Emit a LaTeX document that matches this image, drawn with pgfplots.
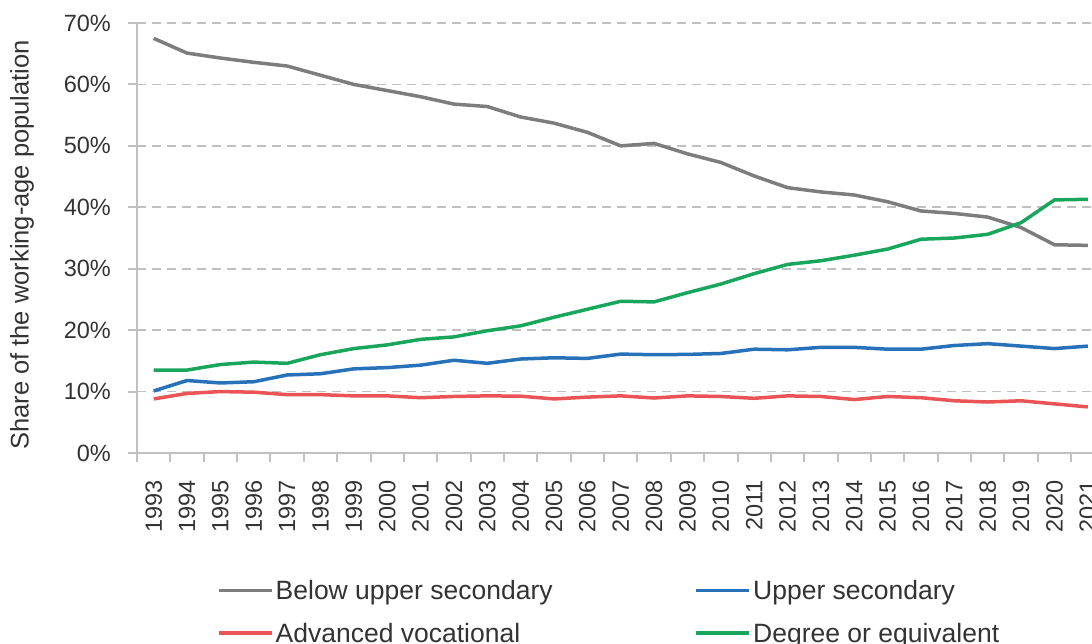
\documentclass[border=0pt]{standalone}
\usepackage{fontspec}
\setmainfont{Liberation Sans}
\usepackage{pgfplots}
\usepackage{pgfplotstable}
\pgfplotsset{compat=1.18}

\definecolor{belowgray}{RGB}{125,125,125}
\definecolor{upperblue}{RGB}{38,113,184}
\definecolor{vocred}{RGB}{234,84,86}
\definecolor{degreegreen}{RGB}{24,166,92}
\definecolor{axgray}{RGB}{192,192,192}
\definecolor{txt}{RGB}{51,51,51}

% idx 0 = 1993
\pgfplotstableread{
idx below upper voc degree
0  67.5 10.1 8.8  13.5
1  65.1 11.8 9.7  13.5
2  64.3 11.4 10.0 14.4
3  63.6 11.6 9.9  14.8
4  63.0 12.7 9.5  14.6
5  61.5 12.9 9.5  16.0
6  60.0 13.7 9.3  17.0
7  59.0 13.9 9.3  17.6
8  58.0 14.3 9.0  18.5
9  56.8 15.1 9.2  18.9
10 56.4 14.6 9.3  19.9
11 54.7 15.3 9.25 20.7
12 53.7 15.5 8.8  22.1
13 52.2 15.4 9.1  23.4
14 50.0 16.1 9.3  24.7
15 50.4 16.0 8.95 24.6
16 48.7 16.05 9.3 26.1
17 47.3 16.2 9.2  27.5
18 45.1 16.9 8.9  29.2
19 43.2 16.8 9.3  30.7
20 42.5 17.2 9.2  31.3
21 42.0 17.2 8.7  32.2
22 40.9 16.9 9.2  33.2
23 39.4 16.9 9.0  34.8
24 39.0 17.5 8.5  35.0
25 38.4 17.8 8.3  35.6
26 36.7 17.4 8.5  37.5
27 33.9 17.0 8.0  41.2
28 33.8 17.4 7.5  41.3
}\edudata

\begin{document}
\begin{tikzpicture}
\begin{axis}[
    scale only axis,
    width=967.5pt, height=430pt,
    xmin=-0.5, xmax=28.5, ymin=0, ymax=70,
    axis x line=bottom, axis y line=left,
    axis line style={-, draw=axgray, line width=2pt},
    xtick={0,...,28},
    xticklabels={1993,1994,1995,1996,1997,1998,1999,2000,2001,2002,2003,2004,2005,2006,2007,2008,2009,2010,2011,2012,2013,2014,2015,2016,2017,2018,2019,2020,2021},
    major x tick style={draw=none},
    minor xtick={-0.5,0.5,...,28.5},
    minor x tick style={draw=axgray, line width=2pt},
    minor tick length=9pt,
    ytick={0,10,...,70},
    yticklabel={\pgfmathprintnumber{\tick}\%},
    major y tick style={draw=axgray, line width=2pt},
    major tick length=9pt,
    tick align=outside,
    /pgf/number format/assume math mode=true,
    tick label style={font=\fontsize{23.5}{28}\selectfont, text=txt},
    xticklabel style={rotate=90, anchor=east, inner sep=0pt},
    xticklabel shift=18pt,
    yticklabel style={inner sep=0pt},
    yticklabel shift=17pt,
    ymajorgrids,
    grid style={draw=axgray, line width=1.8pt, dash pattern=on 9pt off 6pt},
    ylabel={Share of the working-age population},
    ylabel style={font=\fontsize{25.5}{30}\selectfont, text=txt, at={(axis description cs:-0.1189,0.484)}, anchor=center, rotate=0},
    legend columns=2,
    legend cell align=left,
    legend style={at={(axis description cs:0.0827,-0.2907)}, anchor=north west, draw=none, fill=none,
        font=\fontsize{26.5}{31}\selectfont, text=txt, inner sep=0pt, row sep=18pt,
        nodes={inner sep=2pt}},
    legend image code/.code={\draw[#1] (0pt,0pt) -- (53pt,0pt);},
    every axis plot/.append style={line width=3.5pt, line join=round},
]
\addplot[belowgray] table[x=idx, y=below] {\edudata};
\addlegendentry{\makebox[417pt][l]{Below upper secondary}}
\addplot[upperblue] table[x=idx, y=upper] {\edudata};
\addlegendentry{Upper secondary}
\addplot[vocred] table[x=idx, y=voc] {\edudata};
\addlegendentry{\makebox[417pt][l]{Advanced vocational}}
\addplot[degreegreen] table[x=idx, y=degree] {\edudata};
\addlegendentry{Degree or equivalent}
\end{axis}
\pgfresetboundingbox
\path[use as bounding box] (-137pt,-191pt) rectangle (955pt,453pt);
\end{tikzpicture}
\end{document}
